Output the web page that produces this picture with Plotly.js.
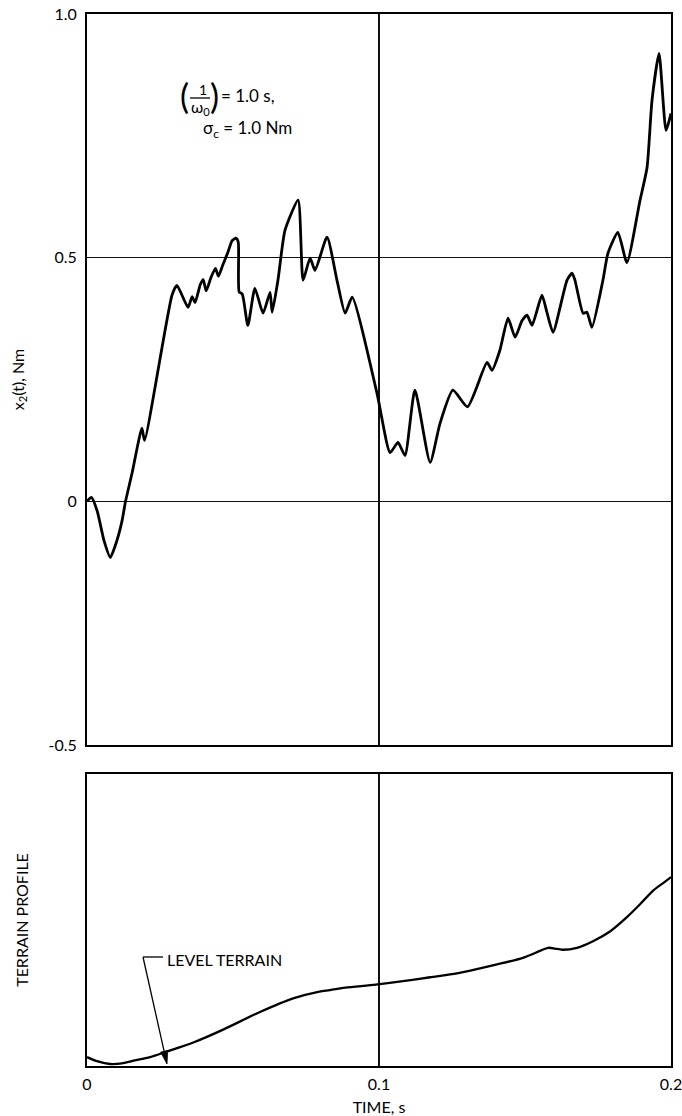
<!DOCTYPE html>
<html>
<head>
<meta charset="utf-8">
<script src="https://cdn.plot.ly/plotly-3.0.1.min.js"></script>
<style>
  html, body { margin: 0; padding: 0; background: #fff; }
  #chart { width: 682px; height: 1116px; }
</style>
</head>
<body>
<div id="chart"></div>
<script>
// Response x2(t) to rough terrain, time in seconds
const timeTop = [
  0.0000, 0.0015, 0.0035, 0.0058, 0.0080, 0.0100, 0.0120, 0.0132, 0.0154, 0.0188,
  0.0197, 0.0291, 0.0308, 0.0346, 0.0360, 0.0370, 0.0388, 0.0398, 0.0408, 0.0425,
  0.0440, 0.0450, 0.0465, 0.0482, 0.0497, 0.0510, 0.0518, 0.0521, 0.0532, 0.0551,
  0.0575, 0.0603, 0.0627, 0.0634, 0.0654, 0.0678, 0.0723, 0.0740, 0.0764, 0.0781,
  0.0822, 0.0856, 0.0884, 0.0908, 0.0993, 0.1038, 0.1065, 0.1089, 0.1123, 0.1175,
  0.1209, 0.1253, 0.1303, 0.1370, 0.1387, 0.1414, 0.1442, 0.1466, 0.1490, 0.1507,
  0.1524, 0.1558, 0.1575, 0.1596, 0.1644, 0.1661, 0.1671, 0.1699, 0.1712, 0.1729,
  0.1767, 0.1784, 0.1818, 0.1849, 0.1894, 0.1918, 0.1935, 0.1959, 0.1983, 0.2000
];
const x2Values = [
  0.000, 0.008, -0.020, -0.080, -0.115, -0.085, -0.040, 0.000, 0.057, 0.150,
  0.125, 0.423, 0.443, 0.398, 0.420, 0.408, 0.445, 0.455, 0.432, 0.460,
  0.478, 0.462, 0.485, 0.510, 0.535, 0.540, 0.532, 0.430, 0.425, 0.361,
  0.437, 0.386, 0.429, 0.388, 0.454, 0.556, 0.618, 0.454, 0.499, 0.474,
  0.542, 0.454, 0.386, 0.419, 0.222, 0.100, 0.121, 0.094, 0.228, 0.080,
  0.160, 0.228, 0.194, 0.285, 0.269, 0.310, 0.376, 0.337, 0.371, 0.382,
  0.361, 0.423, 0.388, 0.347, 0.454, 0.468, 0.454, 0.386, 0.388, 0.357,
  0.454, 0.509, 0.552, 0.490, 0.618, 0.685, 0.823, 0.919, 0.761, 0.796
];

// Terrain profile under the vehicle (relative height)
const timeTerrain = [
  0.0000, 0.0037, 0.0079, 0.0119, 0.0156, 0.0216, 0.0275, 0.0364, 0.0468, 0.0587,
  0.0706, 0.0796, 0.0832, 0.0885, 0.0989, 0.1108, 0.1175, 0.1257, 0.1288, 0.1404,
  0.1493, 0.1551, 0.1579, 0.1610, 0.1630, 0.1678, 0.1733, 0.1791, 0.1849, 0.1894,
  0.1938, 0.1973, 0.2000
];
const terrainValues = [
  0.011, -0.004, -0.013, -0.011, -0.002, 0.011, 0.031, 0.062, 0.108, 0.166,
  0.216, 0.240, 0.245, 0.254, 0.264, 0.280, 0.290, 0.302, 0.308, 0.335,
  0.358, 0.382, 0.393, 0.389, 0.386, 0.393, 0.416, 0.450, 0.500, 0.545,
  0.592, 0.619, 0.640
];

const xTickVals = [0, 0.1, 0.2];
const xTickText = ['0', '0.1', '0.2'];
const yTickVals = [-0.5, 0, 0.5, 1.0];
const yTickText = ['-0.5', '0', '0.5', '1.0'];

// page geometry (pixels)
const W = 682, H = 1116;
const M = { l: 87, r: 11, t: 14, b: 50 };
const plotW = W - M.l - M.r, plotH = H - M.t - M.b;
const px = v => (v - M.l) / plotW;          // page x -> paper x
const py = v => (H - M.b - v) / plotH;      // page y -> paper y

const FONT = 'Lato, "Noto Sans", "DejaVu Sans", sans-serif';
const INK = '#000';

const traces = [
  {
    x: timeTop, y: x2Values, xaxis: 'x', yaxis: 'y',
    mode: 'lines', type: 'scatter',
    line: { color: INK, width: 2.8, shape: 'spline', smoothing: 0.55 },
    hoverinfo: 'skip'
  },
  {
    x: timeTerrain, y: terrainValues, xaxis: 'x2', yaxis: 'y2',
    mode: 'lines', type: 'scatter',
    line: { color: INK, width: 2.3, shape: 'spline', smoothing: 0.8 },
    hoverinfo: 'skip'
  }
];

const frame = {
  showline: true, mirror: true, linecolor: INK, linewidth: 2,
  gridcolor: '#111', gridwidth: 1.2, zeroline: false,
  tickfont: { family: FONT, size: 16, color: INK },
  ticklabeloverflow: 'allow'
};
const titleFont = { family: FONT, size: 16, color: INK };

const topDomain = [py(745), 1];
const botDomain = [0, py(774)];

const annText = (text, x, y, size, anchor) => ({
  xref: 'paper', yref: 'paper', x: px(x), y: py(y),
  text: text, showarrow: false, xanchor: anchor || 'center', yanchor: 'middle',
  font: { family: FONT, size: size, color: INK }
});

// arrow from the LEVEL TERRAIN leader down to the baseline
const leaderCorner = [143, 957], arrowTip = [167, 1064];
const dx = arrowTip[0] - leaderCorner[0], dy = arrowTip[1] - leaderCorner[1];
const len = Math.hypot(dx, dy), ux = dx / len, uy = dy / len;
const headL = 13, headW = 3.6;
const bx = arrowTip[0] - headL * ux, by = arrowTip[1] - headL * uy;
const headPath = 'M ' + px(arrowTip[0]) + ',' + py(arrowTip[1]) +
  ' L ' + px(bx + headW * uy) + ',' + py(by - headW * ux) +
  ' L ' + px(bx - headW * uy) + ',' + py(by + headW * ux) + ' Z';

const layout = {
  width: W, height: H,
  margin: M,
  paper_bgcolor: '#fff', plot_bgcolor: '#fff',
  showlegend: false,
  font: { family: FONT, color: INK },
  xaxis: Object.assign({}, frame, {
    anchor: 'y', domain: [0, 1], range: [0, 0.2],
    tickvals: xTickVals, showticklabels: false
  }),
  yaxis: Object.assign({}, frame, {
    anchor: 'x', domain: topDomain, range: [-0.5, 1.0],
    tickvals: yTickVals, ticktext: yTickText,
    ticks: 'outside', tickcolor: 'rgba(0,0,0,0)', ticklen: 5,
    title: { text: 'x<sub>2</sub>(t), Nm', standoff: 20, font: titleFont }
  }),
  xaxis2: Object.assign({}, frame, {
    anchor: 'y2', domain: [0, 1], range: [0, 0.2],
    tickvals: xTickVals, ticktext: xTickText,
    ticks: 'outside', tickcolor: 'rgba(0,0,0,0)', ticklen: 3,
    title: { text: 'TIME, s', standoff: 12, font: titleFont }
  }),
  yaxis2: Object.assign({}, frame, {
    anchor: 'x2', domain: botDomain, range: [-0.02, 1.0],
    showgrid: false, showticklabels: false, tickvals: [],
    title: { text: 'TERRAIN PROFILE', standoff: 52, font: titleFont }
  }),
  shapes: [
    // fraction bar of 1/omega0
    { type: 'line', xref: 'paper', yref: 'paper', x0: px(190), x1: px(210), y0: py(98), y1: py(98),
      line: { color: INK, width: 1.3 } },
    // leader from the LEVEL TERRAIN label
    { type: 'line', xref: 'paper', yref: 'paper',
      x0: px(leaderCorner[0]), x1: px(163), y0: py(leaderCorner[1]), y1: py(leaderCorner[1]),
      line: { color: INK, width: 1.3 } },
    { type: 'line', xref: 'paper', yref: 'paper',
      x0: px(leaderCorner[0]), y0: py(leaderCorner[1]), x1: px(bx), y1: py(by),
      line: { color: INK, width: 1.3 } },
    { type: 'path', xref: 'paper', yref: 'paper', path: headPath,
      fillcolor: INK, line: { color: INK, width: 0.8 } }
  ],
  annotations: [
    annText('(', 184, 95, 34),
    annText('1', 203, 89, 14),
    annText('ω<sub>0</sub>', 200, 107, 16),
    annText(')', 214, 95, 34),
    annText('= 1.0 s,', 219, 95, 17, 'left'),
    annText('σ<sub>c</sub> = 1.0 Nm', 201, 129, 17, 'left'),
    annText('LEVEL TERRAIN', 165, 959, 16, 'left')
  ]
};

Plotly.newPlot('chart', traces, layout, { staticPlot: true, displayModeBar: false });
</script>
</body>
</html>
